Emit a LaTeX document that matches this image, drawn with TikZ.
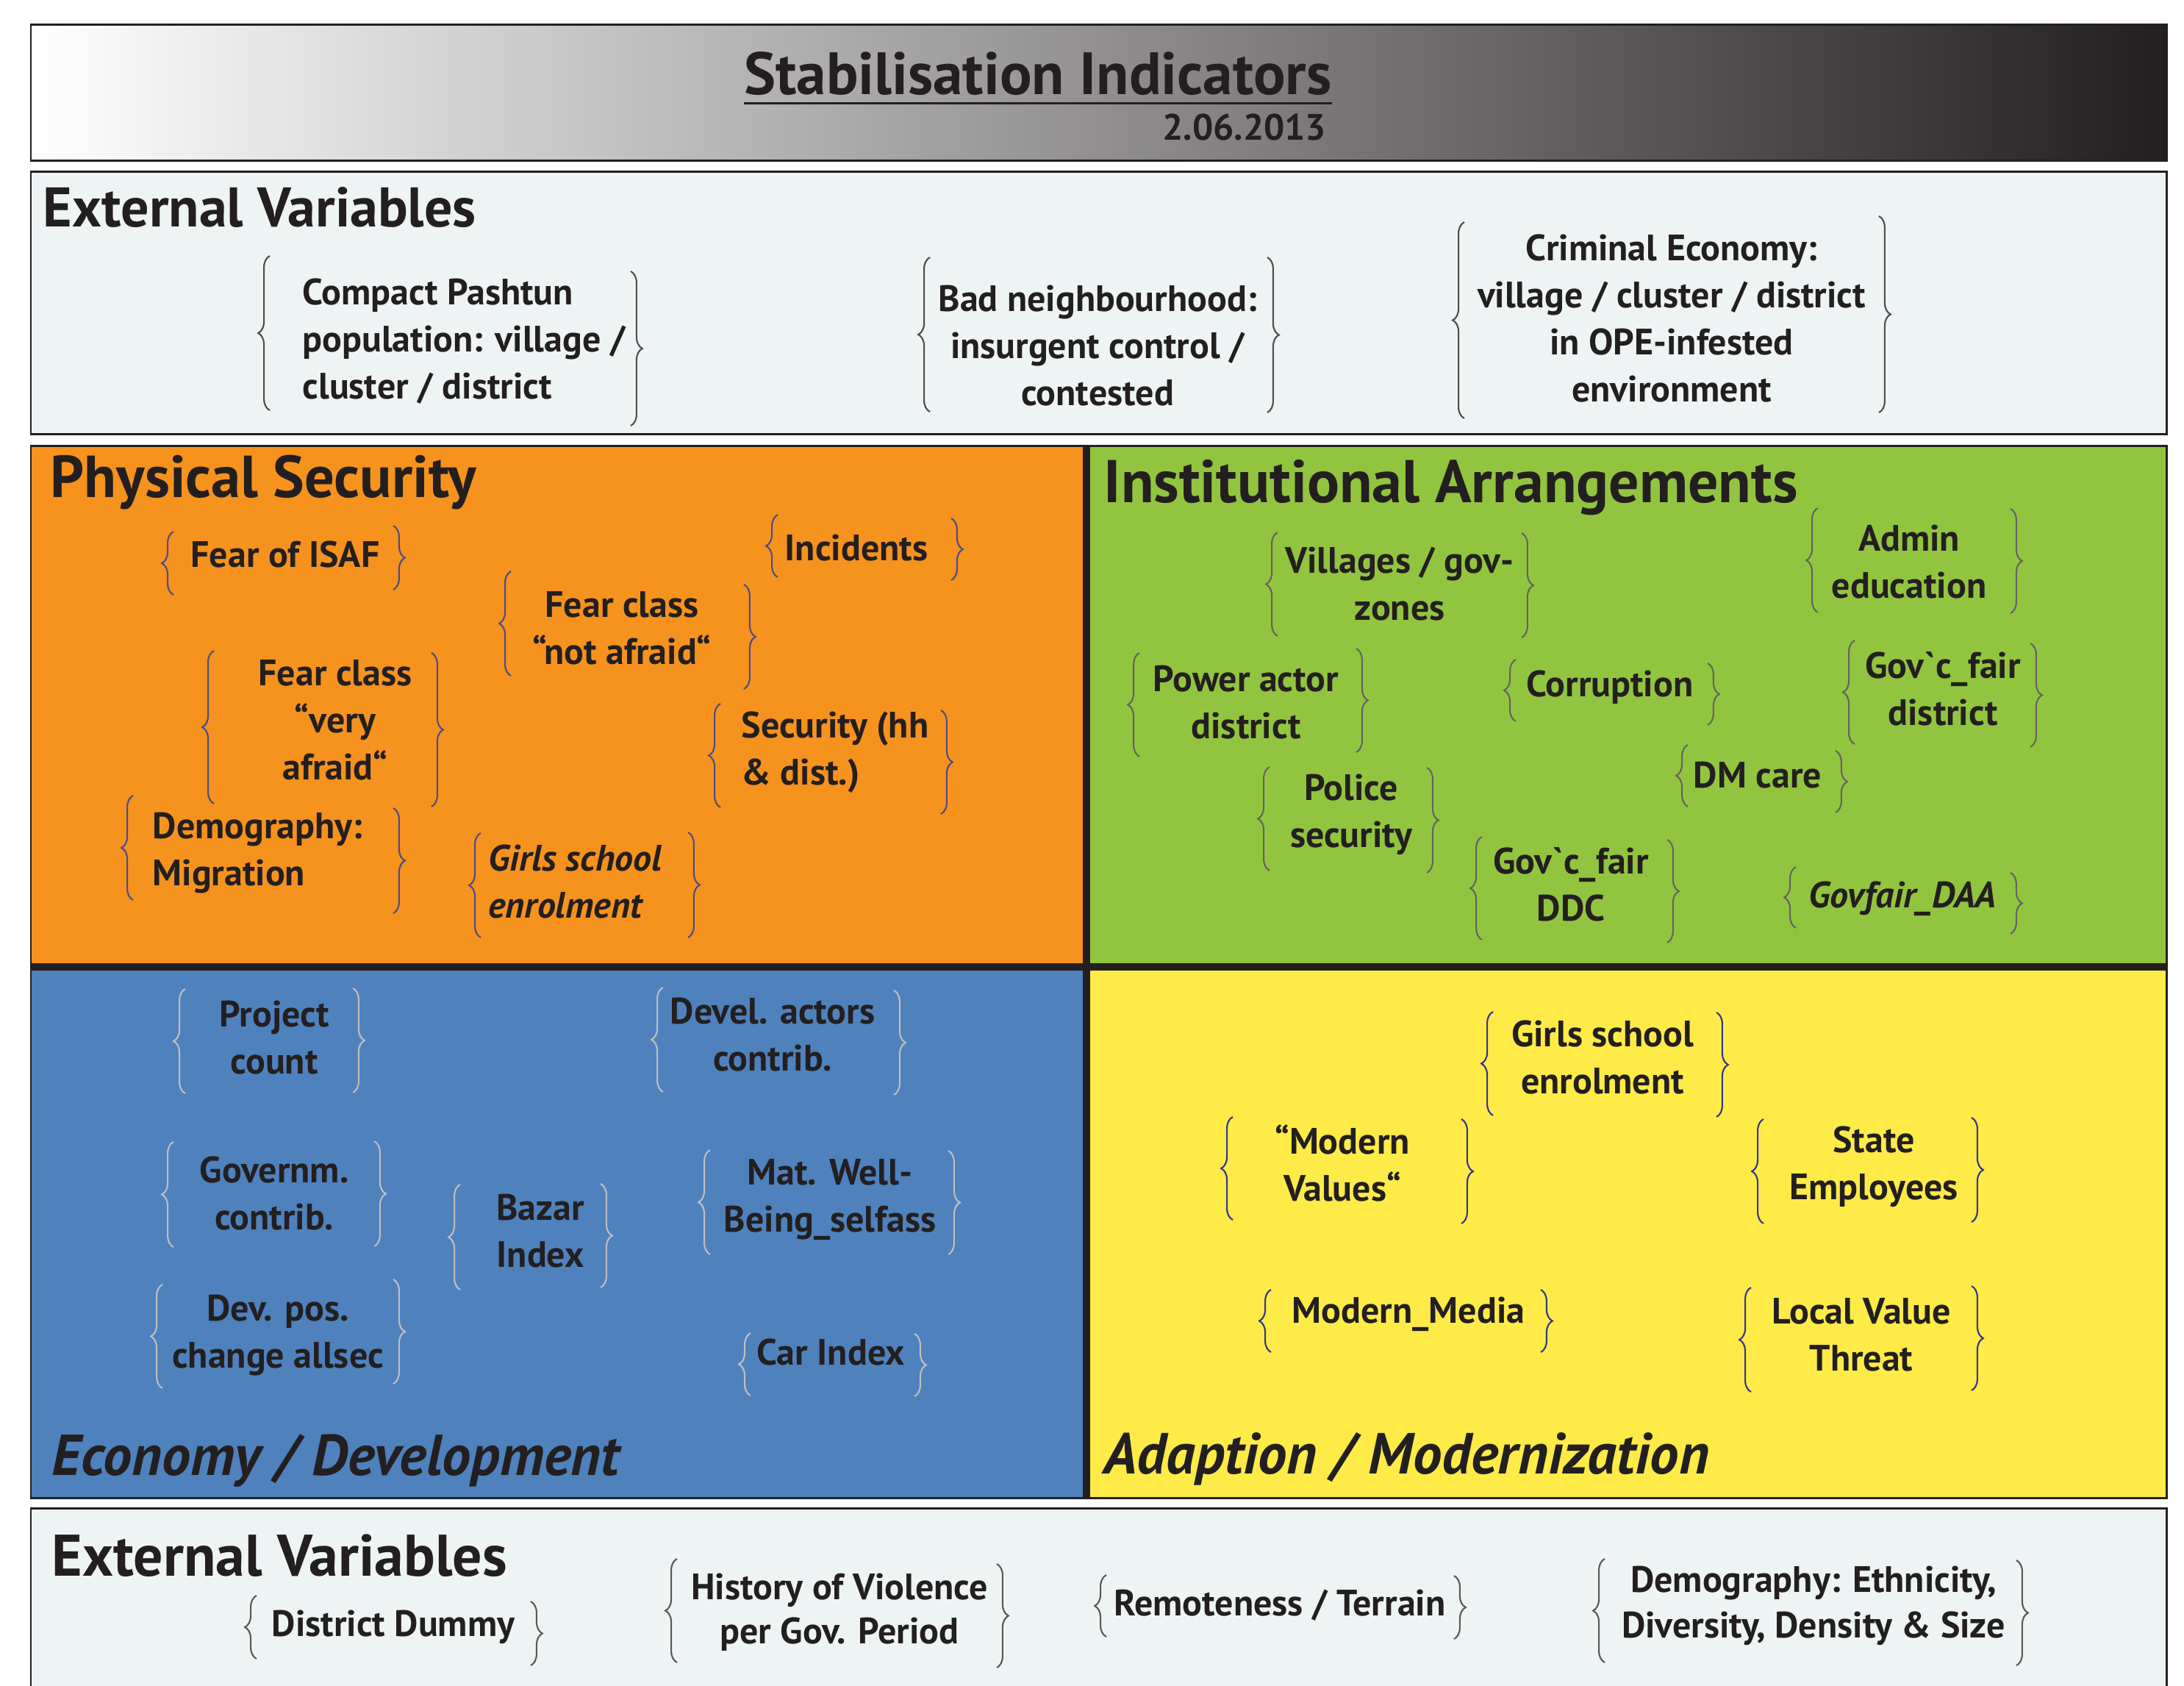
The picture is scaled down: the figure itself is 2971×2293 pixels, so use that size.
\documentclass[tikz,border=0pt]{standalone}
\usepackage{fontspec}
\setmainfont{PT Sans}[Ligatures=TeXOff]
\usetikzlibrary{decorations.pathreplacing,calc}
\definecolor{ink}{HTML}{231F20}
\definecolor{extfill}{HTML}{EEF4F4}
\definecolor{orangeP}{HTML}{F6921E}
\definecolor{greenP}{HTML}{92C53F}
\definecolor{blueP}{HTML}{4F81BD}
\definecolor{yellowP}{HTML}{FFEB48}
\newcommand\itemfont{\fontsize{14.2}{18.2}\selectfont\bfseries}
\newcommand\headfont{\fontsize{21.6}{26}\selectfont\bfseries}
\newcommand\hfs[1]{\fontsize{#1}{26}\selectfont\bfseries}
\newcommand\brpair[6]{%
  \draw[br] (#1+8,#3) -- (#1+8,#2);
  \draw[br] (#4-8,#5) -- (#4-8,#6);}
\tikzset{
  item/.style={inner sep=0pt, align=center, font=\itemfont, text=ink},
  itemL/.style={item, align=left, anchor=west},
  head/.style={inner sep=0pt, anchor=base west, font=\headfont, text=ink},
  br/.style={decorate, decoration={brace, amplitude=4.5pt}, line width=0.6pt, draw=#1},
  br/.default={ink!75},
  panelbox/.style={draw=ink, line width=0.85pt},
}
\begin{document}
\begin{tikzpicture}[x=0.01cm, y=-0.01cm]
\useasboundingbox[fill=white] (0,0) rectangle (2971,2293);
% header
\shade[left color=white, right color=ink] (42,33) rectangle (2947,218);
\draw[panelbox] (42,33) rectangle (2947,218);
\node[inner sep=0pt, anchor=base, font=\hfs{23.1}, text=ink] (title) at (1412,128) {Stabilisation Indicators};
\draw[ink, line width=0.85pt] ($(title.base west)+(0,12)$) -- ($(title.base east)+(0,12)$);
\node[inner sep=0pt, anchor=base east, font=\itemfont, text=ink] (date) at (1805,190) {2.06.2013};
% top external variables
\draw[panelbox, fill=extfill] (42,233) rectangle (2947,590);
\node[head] (ext1) at (58,308) {External Variables};
\begin{scope}[br/.default={ink!80}]
\node[itemL] (comp) at (411,464) {Compact Pashtun\\population: village /\\cluster / district};
\brpair{359}{348}{558}{866}{369}{579}
\node[item] (bad) at (1493,470) {Bad neighbourhood:\\insurgent control /\\contested};
\brpair{1257}{350}{560}{1732}{350}{561}
\node[item] (crim) at (2274,433) {Criminal Economy:\\village / cluster / district\\in OPE-infested\\environment};
\brpair{1984}{302}{569}{2564}{294}{561}
\end{scope}
% panels
\fill[orangeP] (42,606) rectangle (1478,1315);
\fill[greenP] (1478,606) rectangle (2947,1315);
\fill[blueP] (42,1315) rectangle (1478,2037);
\fill[yellowP] (1478,1315) rectangle (2947,2037);
\draw[ink, line width=2.85pt] (1478,606) -- (1478,2037);
\draw[ink, line width=2.6pt] (42,1315) -- (2947,1315);
\draw[panelbox] (42,606) rectangle (2947,2037);
\node[head, font=\hfs{22.9}] (phys) at (68,676) {Physical Security};
\node[head, font=\hfs{23.3}] (inst) at (1501,683) {Institutional Arrangements};
\node[head, font=\hfs{22.3}\itshape] (econ) at (70,2006) {Economy / Development};
\node[head, font=\hfs{22.4}\itshape] (adap) at (1501,2004) {Adaption / Modernization};
% physical security
\begin{scope}[br/.default={black!45!blue!40!gray}]
\node[item] (fearisaf) at (388,754) {Fear of ISAF};
\brpair{228}{723}{809}{543}{715}{802}
\node[item] (incid) at (1165,745) {Incidents};
\brpair{1050}{700}{785}{1302}{705}{789}
\node[item] (notafraid) at (846,854) {Fear class\\“not afraid“};
\brpair{687}{777}{919}{1020}{795}{937}
\node[item] (veryafraid) at (456,979) {Fear class\\“very\\afraid“};
\brpair{283}{885}{1093}{595}{888}{1097}
\node[itemL] (demog) at (207,1160) {Demography:\\Migration};
\brpair{173}{1082}{1224}{543}{1099}{1242}
\node[itemL, font=\itemfont\itshape] (girls) at (664,1199) {Girls school\\enrolment};
\brpair{646}{1133}{1275}{944}{1132}{1275}
\node[itemL] (secur) at (1008,1023) {Security (hh\\\& dist.)};
\brpair{972}{957}{1098}{1288}{966}{1107}
\end{scope}
% institutional arrangements
\begin{scope}[br/.default={ink!70}]
\node[item] (villages) at (1904,794) {Villages / gov-\\zones};
\brpair{1730}{724}{865}{2078}{725}{867}
\node[item] (admin) at (2597,764) {Admin\\education};
\brpair{2465}{691}{833}{2743}{692}{834}
\node[item] (power) at (1695,955) {Power actor\\district};
\brpair{1542}{888}{1029}{1853}{882}{1023}
\node[item] (corrupt) at (2190,935) {Corruption};
\brpair{2054}{897}{981}{2331}{902}{986}
\node[item] (govdist) at (2643,937) {Gov`c\_fair\\district};
\brpair{2515}{871}{1012}{2770}{875}{1016}
\node[item] (dmcare) at (2391,1054) {DM care};
\brpair{2288}{1013}{1097}{2505}{1021}{1105}
\node[item] (police) at (1838,1108) {Police\\security};
\brpair{1719}{1043}{1184}{1949}{1044}{1187}
\node[item] (govddc) at (2137,1203) {Gov`c\_fair\\DDC};
\brpair{2008}{1138}{1278}{2276}{1142}{1282}
\node[item, font=\itemfont\itshape] (govdaa) at (2588,1222) {Govfair\_DAA};
\brpair{2435}{1179}{1262}{2743}{1187}{1270}
\end{scope}
% economy / development
\begin{scope}[br/.default={black!25}]
\node[item] (project) at (373,1411) {Project\\count};
\brpair{244}{1345}{1487}{488}{1344}{1486}
\node[item] (devel) at (1051,1407) {Devel. actors\\contrib.};
\brpair{894}{1343}{1485}{1224}{1347}{1489}
\node[item] (governm) at (373,1623) {Governm.\\contrib.};
\brpair{228}{1553}{1696}{517}{1552}{1695}
\node[item] (bazar) at (735,1674) {Bazar\\Index};
\brpair{618}{1611}{1754}{825}{1610}{1751}
\node[item] (matwell) at (1129,1632) {Mat. Well-\\Being\_selfass};
\brpair{958}{1564}{1706}{1298}{1565}{1706}
\node[item] (devpos) at (378,1816) {Dev. pos.\\change allsec};
\brpair{213}{1747}{1888}{543}{1740}{1882}
\node[item] (carindex) at (1130,1839) {Car Index};
\brpair{1013}{1813}{1898}{1252}{1814}{1899}
\end{scope}
% adaption / modernization
\begin{scope}[br/.default={blue!45!black!80}]
\node[item] (girls2) at (2180,1438) {Girls school\\enrolment};
\brpair{2023}{1376}{1517}{2343}{1377}{1519}
\node[item] (modernv) at (1826,1582) {“Modern\\Values“};
\brpair{1669}{1519}{1659}{1996}{1522}{1664}
\node[item] (state) at (2549,1587) {State\\Employees};
\brpair{2391}{1522}{1664}{2690}{1520}{1662}
\node[item] (media) at (1916,1787) {Modern\_Media};
\brpair{1721}{1754}{1839}{2104}{1754}{1839}
\node[item] (localv) at (2532,1815) {Local Value\\Threat};
\brpair{2374}{1751}{1893}{2690}{1749}{1891}
\end{scope}
% bottom external variables
\draw[panelbox, fill=extfill] (42,2051) rectangle (2947,2330);
\node[head, font=\hfs{22.7}] (ext2) at (70,2143) {External Variables};
\begin{scope}[br/.default={ink!75}]
\node[item] (distdummy) at (535,2213) {District Dummy};
\brpair{341}{2170}{2256}{730}{2178}{2265}
\node[item, font=\fontsize{14.2}{17}\selectfont\bfseries] (history) at (1142,2193) {History of Violence\\per Gov. Period};
\brpair{913}{2120}{2261}{1364}{2127}{2268}
\node[item] (remote) at (1741,2183) {Remoteness / Terrain};
\brpair{1497}{2142}{2226}{1986}{2143}{2229}
\node[item, font=\fontsize{14.2}{17.5}\selectfont\bfseries] (demog2) at (2467,2184) {Demography: Ethnicity,\\Diversity, Density \& Size};
\brpair{2175}{2120}{2261}{2751}{2122}{2265}
\end{scope}
\end{tikzpicture}
\end{document}
